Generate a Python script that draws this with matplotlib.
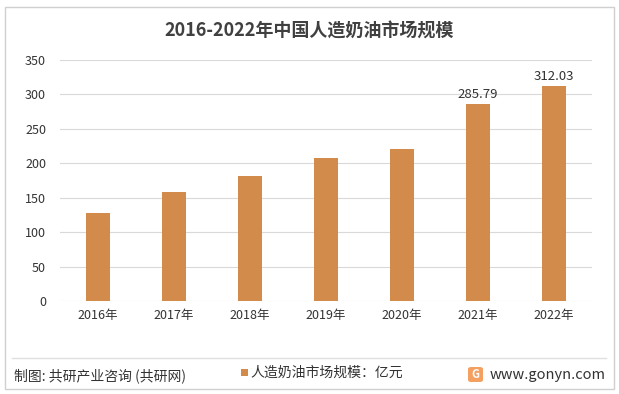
import matplotlib
matplotlib.use("Agg")
import matplotlib.pyplot as plt
from matplotlib.patches import Rectangle, FancyBboxPatch
from matplotlib.lines import Line2D

plt.rcParams['font.family'] = ['Noto Sans CJK SC', 'DejaVu Sans']

years = ["2016年", "2017年", "2018年", "2019年", "2020年", "2021年", "2022年"]
values = [128, 158, 181, 207.5, 220.5, 285.79, 312.03]
labeled = {5: "285.79", 6: "312.03"}
yticks = [0, 50, 100, 150, 200, 250, 300, 350]

W, H = 619, 394
fig = plt.figure(figsize=(W/100, H/100), dpi=100)
ax = fig.add_axes([60/W, 1-301/H, (592-60)/W, (301-60)/H])

color = "#D38B4C"
x = range(len(years))
ax.bar(x, values, width=0.32, color=color, zorder=3)
for i, t in labeled.items():
    ax.text(i, values[i] + 5, t, ha='center', va='bottom', fontsize=9.5, color='#333333')

ax.set_xlim(-0.5, len(years) - 0.5)
ax.set_ylim(0, 350)
ax.set_yticks(yticks)
ax.set_xticks(list(x))
ax.set_xticklabels(years, fontsize=9, color='#333333')
ax.tick_params(axis='y', labelsize=9, colors='#333333', length=0, pad=10)
ax.tick_params(axis='x', length=0, pad=6)
ax.grid(axis='y', color='#D9D9D9', linewidth=0.8, zorder=0)
for s in ax.spines.values():
    s.set_visible(False)

fig.text(0.5, 1-31/H, "2016-2022年中国人造奶油市场规模", ha='center', va='center',
         fontsize=13, fontweight='bold', color='#404040')

# outer border
fig.patches.append(Rectangle((5/W, 5/H), (W-10)/W, (H-12)/H, transform=fig.transFigure,
                             fill=False, edgecolor='#D0D0D0', linewidth=1))
fig.lines.append(Line2D([12/W, 606/W], [1-358/H, 1-358/H], transform=fig.transFigure,
                        color='#E0E0E0', linewidth=1))

fig.text(14/W, 1-376/H, "制图: 共研产业咨询 (共研网)", ha='left', va='center', fontsize=10, color='#333333')
fig.patches.append(Rectangle((241/W, 1-376/H), 7/W, 7/H, transform=fig.transFigure,
                             facecolor=color, edgecolor='none'))
fig.text(250/W, 1-372.5/H, "人造奶油市场规模：亿元", ha='left', va='center', fontsize=10, color='#333333')
fig.patches.append(FancyBboxPatch((468/W, 1-382/H), 15/W, 15/H, transform=fig.transFigure,
                                  boxstyle="round,pad=0,rounding_size=0.005",
                                  facecolor='#F4A060', edgecolor='none'))
fig.text(475.5/W, 1-374.5/H, "G", ha='center', va='center', fontsize=8, fontweight='bold', color='white')
fig.text(490/W, 1-375/H, "www.gonyn.com", ha='left', va='center', fontsize=10.5, color='#333333')

fig.savefig("out.png", dpi=100)
